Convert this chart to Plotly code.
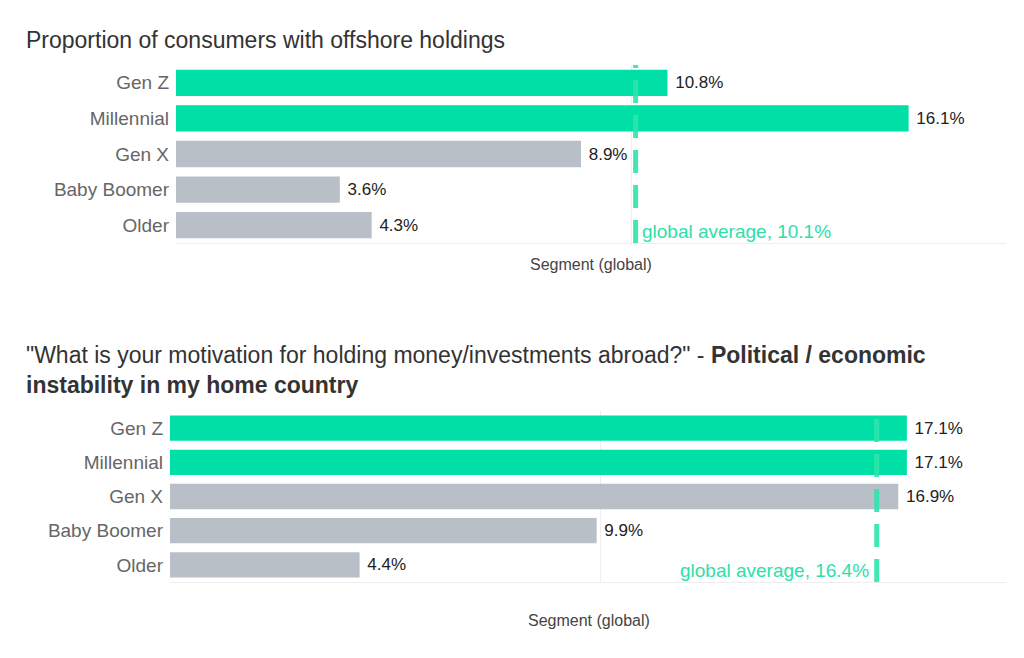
import plotly.graph_objects as go

categories = ["Gen Z", "Millennial", "Gen X", "Baby Boomer", "Older"]
offshore_values = [10.8, 16.1, 8.9, 3.6, 4.3]
instability_values = [17.1, 17.1, 16.9, 9.9, 4.4]
highlight = [True, True, False, False, False]
offshore_avg = 10.1
instability_avg = 16.4

GREEN = "#00dfa5"
GRAY = "#b8bfc6"
LINE = "rgba(45,230,172,0.9)"
colors = [GREEN if h else GRAY for h in highlight]

# page has an 8px body margin; figure is sized so its right/bottom edges hit the window
W, H = 1016, 650
OFF = 8


def px(p):
    return (p - OFF) / W


def py(p):
    return (H - (p - OFF)) / H


FONT = "Liberation Sans, Arial, sans-serif"

fig = go.Figure()
fig.add_trace(go.Bar(
    x=offshore_values, y=categories, orientation="h",
    marker=dict(color=colors, line=dict(width=0)),
    texttemplate=" %{x:.1f}%", textposition="outside",
    textfont=dict(size=17, color="#222222"), cliponaxis=False,
    xaxis="x", yaxis="y", hoverinfo="skip"))
fig.add_trace(go.Bar(
    x=instability_values, y=categories, orientation="h",
    marker=dict(color=colors, line=dict(width=0)),
    texttemplate=" %{x:.1f}%", textposition="outside",
    textfont=dict(size=17, color="#222222"), cliponaxis=False,
    xaxis="x2", yaxis="y2", hoverinfo="skip"))

xcommon = dict(showticklabels=False, ticks="", showgrid=True, gridcolor="#eeeeee",
               gridwidth=1, dtick=10, zeroline=False, showline=True,
               linecolor="#eeeeee", linewidth=1, fixedrange=True)
ycommon = dict(autorange="reversed", showgrid=False, zeroline=False, showline=False,
               tickfont=dict(size=19, color="#666666", family=FONT),
               ticklabelstandoff=6, fixedrange=True)

fig.update_layout(
    width=W, height=H,
    margin=dict(l=0, r=0, t=0, b=0),
    paper_bgcolor="white", plot_bgcolor="white",
    showlegend=False,
    bargap=0.26,
    font=dict(family=FONT),
    xaxis=dict(domain=[px(176), px(1006)], range=[0, 18.24], anchor="y", **xcommon),
    yaxis=dict(domain=[py(243), py(65)], anchor="x", **ycommon),
    xaxis2=dict(domain=[px(170), px(1006)], range=[0, 19.4], anchor="y2", **xcommon),
    yaxis2=dict(domain=[py(582), py(411)], anchor="x2", **ycommon),
)

fig.add_shape(type="line", xref="x", yref="y domain", x0=offshore_avg, x1=offshore_avg,
              y0=0, y1=1, line=dict(color=LINE, width=5, dash="23px,12px"), layer="above")
fig.add_shape(type="line", xref="x2", yref="y2 domain", x0=instability_avg, x1=instability_avg,
              y0=0, y1=1, line=dict(color=LINE, width=5, dash="23px,12px"), layer="above")

fig.add_annotation(xref="x", yref="y domain", x=offshore_avg, y=0.065,
                   text=f"global average, {offshore_avg}%", showarrow=False,
                   xanchor="left", yanchor="middle", xshift=4,
                   font=dict(size=19, color="#2ee0a8"))
fig.add_annotation(xref="x2", yref="y2 domain", x=instability_avg, y=0.07,
                   text=f"global average, {instability_avg}%", showarrow=False,
                   xanchor="right", yanchor="middle", xshift=-6,
                   font=dict(size=19, color="#2ee0a8"))

fig.add_annotation(xref="paper", yref="paper", x=px(24), y=py(40),
                   text="Proportion of consumers with offshore holdings", showarrow=False,
                   xanchor="left", yanchor="middle", font=dict(size=23, color="#333333"))
fig.add_annotation(xref="paper", yref="paper", x=px(24), y=py(370),
                   text='"What is your motivation for holding money/investments abroad?" - <b>Political / economic</b><br><b>instability in my home country</b>',
                   showarrow=False, xanchor="left", yanchor="middle", align="left",
                   font=dict(size=23, color="#333333"))

fig.add_annotation(xref="paper", yref="paper", x=px(590.5), y=py(265),
                   text="Segment (global)", showarrow=False, xanchor="center", yanchor="middle",
                   font=dict(size=16, color="#444444"))
fig.add_annotation(xref="paper", yref="paper", x=px(588.5), y=py(620),
                   text="Segment (global)", showarrow=False, xanchor="center", yanchor="middle",
                   font=dict(size=16, color="#444444"))

fig.write_html("out.html")
